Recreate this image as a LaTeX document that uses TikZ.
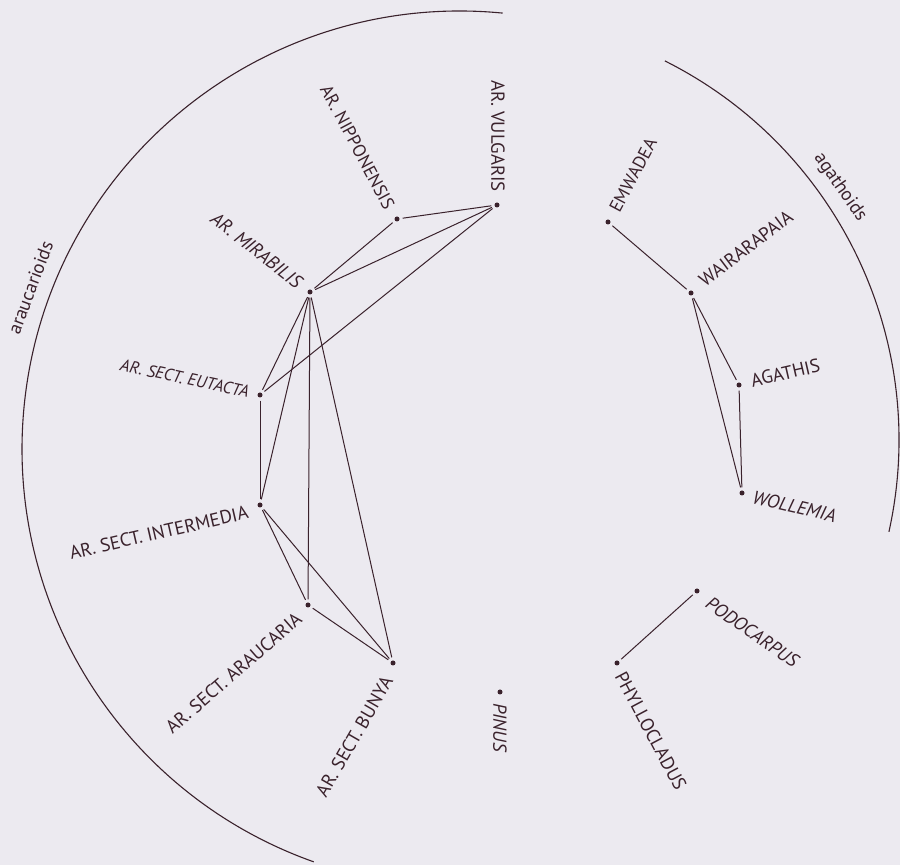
\documentclass[tikz,border=0pt]{standalone}
\usepackage{fontspec}
\setmainfont{PT Sans}
\usetikzlibrary{calc}
\definecolor{ink}{RGB}{58,34,44}
\definecolor{paper}{RGB}{236,234,240}
\begin{document}
\begin{tikzpicture}[x=1pt,y=1pt,
  dot/.style={circle,fill=ink,draw=none,inner sep=0pt,minimum size=5pt},
  lab/.style={inner sep=0pt,text=ink,font=\fontsize{18.8}{22}\selectfont},
  ilab/.style={inner sep=0pt,text=ink,font=\fontsize{18.8}{22}\selectfont\itshape},
  link/.style={draw=ink,line width=1pt,shorten >=3pt,shorten <=3pt},
  grp/.style={draw=ink,line width=1.1pt}]
\fill[paper] (0,0) rectangle (900,865);
\useasboundingbox (0,0) rectangle (900,865);
% dots
\node[dot] (vulg) at (497,660) {};
\node[dot] (nipp) at (397,646) {};
\node[dot] (mira) at (310,573) {};
\node[dot] (euta) at (260,470) {};
\node[dot] (inte) at (260,360) {};
\node[dot] (arau) at (308,260) {};
\node[dot] (buny) at (393,202) {};
\node[dot] (pinu) at (500,173) {};
\node[dot] (phyl) at (617,202) {};
\node[dot] (podo) at (697,274) {};
\node[dot] (woll) at (742,372) {};
\node[dot] (agat) at (739,480) {};
\node[dot] (wair) at (691,572) {};
\node[dot] (emwa) at (608,643) {};
% labels
\node[lab,anchor=east,rotate=-90] (vulgL) at (498,673) {AR. VULGARIS};
\node[lab,anchor=east,rotate=-62,font=\fontsize{18}{22}\selectfont] (nippL) at (390,657) {AR. NIPPONENSIS};
\node[ilab,anchor=east,rotate=-38] (miraL) at (300,581) {AR. MIRABILIS};
\node[ilab,anchor=east,rotate=-12,font=\fontsize{17}{20}\selectfont\itshape] (eutaL) at (249,473) {AR. SECT. EUTACTA};
\node[lab,anchor=east,rotate=13] (inteL) at (248,353) {AR. SECT. INTERMEDIA};
\node[lab,anchor=east,rotate=41] (arauL) at (299,249) {AR. SECT. ARAUCARIA};
\node[lab,anchor=east,rotate=60] (bunyL) at (388,187) {AR. SECT. BUNYA};
\node[ilab,anchor=west,rotate=-90] (pinuL) at (500,162) {PINUS};
\node[lab,anchor=west,rotate=-62] (phylL) at (620,192) {PHYLLOCLADUS};
\node[ilab,anchor=west,rotate=-35] (podoL) at (708,264) {PODOCARPUS};
\node[ilab,anchor=west,rotate=-13] (wollL) at (753,368) {WOLLEMIA};
\node[lab,anchor=west,rotate=13] (agatL) at (751,484) {AGATHIS};
\node[lab,anchor=west,rotate=37] (wairL) at (701,583) {WAIRARAPAIA};
\node[lab,anchor=west,rotate=62,font=\fontsize{18}{22}\selectfont] (emwaL) at (614,654) {EMWADEA};
% group arcs
\coordinate (cL) at (460,416);
\coordinate (cR) at (475,425);
\draw[grp] ($(cL)+(84.4:438)$) arc[start angle=84.4,end angle=250.5,radius=438];
\draw[grp] ($(cR)+(63.4:424)$) arc[start angle=63.4,end angle=-12.5,radius=424];
\node[lab,rotate=69.4] (araucL) at ($(cL)+(159.4:459)$) {araucarioids};
\node[lab,rotate=-55.3] (agathL) at ($(cR)+(34.7:444)$) {agathoids};
% links
\draw[link] (nipp) -- (vulg);
\draw[link] (mira) -- (nipp);
\draw[link] (mira) -- (vulg);
\draw[link] (euta) -- (vulg);
\draw[link] (mira) -- (euta);
\draw[link] (mira) -- (inte);
\draw[link] (mira) -- (arau);
\draw[link] (mira) -- (buny);
\draw[link] (euta) -- (inte);
\draw[link] (inte) -- (arau);
\draw[link] (inte) -- (buny);
\draw[link] (arau) -- (buny);
\draw[link] (emwa) -- (wair);
\draw[link] (wair) -- (agat);
\draw[link] (wair) -- (woll);
\draw[link] (agat) -- (woll);
\draw[link] (phyl) -- (podo);
\end{tikzpicture}
\end{document}
